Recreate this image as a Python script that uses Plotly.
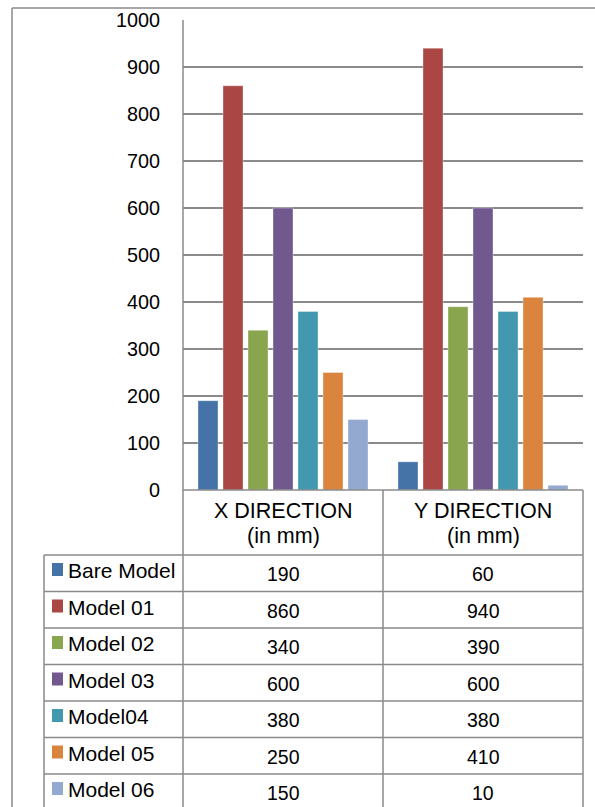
import plotly.graph_objects as go

# Peak displacement per model, in mm
categories = ["X DIRECTION", "Y DIRECTION"]
category_units = "(in mm)"
models = ["Bare Model", "Model 01", "Model 02", "Model 03", "Model04", "Model 05", "Model 06"]
x_direction = [190, 860, 340, 600, 380, 250, 150]
y_direction = [60, 940, 390, 600, 380, 410, 10]
y_ticks = [0, 100, 200, 300, 400, 500, 600, 700, 800, 900, 1000]

colors = ["#4572A7", "#AA4643", "#89A54E", "#71588F", "#4198AF", "#DB843D", "#93A9CF"]

W, H = 595, 807
FONT = "Liberation Sans, Arial, sans-serif"
LINE = "#8a8a8a"

# pixel layout of the chart frame and data table
plot_left, plot_right = 183, 583
plot_top, plot_bottom = 20, 490
col_edges = [44, 183, 383, 583]
header_bottom = 555
row_h = 36.5
table_bottom = 812


def px(x):
    return x / W


def py(y):
    return 1 - y / H


fig = go.Figure()
for name, xv, yv, c in zip(models, x_direction, y_direction, colors):
    fig.add_trace(go.Bar(
        x=categories, y=[xv, yv], name=name,
        marker=dict(color=c, line=dict(color="rgba(255,255,255,0.35)", width=1)),
        showlegend=False,
    ))

shapes = []
# outer chart frame (left and top edges)
shapes.append(dict(type="line", xref="paper", yref="paper", x0=px(12), x1=px(12),
                   y0=py(8), y1=py(H + 5), line=dict(color=LINE, width=1.5)))
shapes.append(dict(type="line", xref="paper", yref="paper", x0=px(12), x1=px(W + 5),
                   y0=py(8), y1=py(8), line=dict(color=LINE, width=1.5)))

# data table grid
shapes.append(dict(type="line", xref="paper", yref="paper", x0=px(plot_left), x1=px(plot_right),
                   y0=py(plot_bottom), y1=py(plot_bottom), line=dict(color=LINE, width=1.5)))
row_tops = [header_bottom + i * row_h for i in range(len(models) + 1)]
for yb in row_tops:
    shapes.append(dict(type="line", xref="paper", yref="paper", x0=px(col_edges[0]), x1=px(col_edges[-1]),
                       y0=py(yb), y1=py(yb), line=dict(color=LINE, width=1.5)))
shapes.append(dict(type="line", xref="paper", yref="paper", x0=px(col_edges[0]), x1=px(col_edges[0]),
                   y0=py(header_bottom), y1=py(table_bottom), line=dict(color=LINE, width=1.5)))
shapes.append(dict(type="line", xref="paper", yref="paper", x0=px(col_edges[1]), x1=px(col_edges[1]),
                   y0=py(plot_top), y1=py(table_bottom), line=dict(color=LINE, width=1.5)))
for xe in col_edges[2:]:
    shapes.append(dict(type="line", xref="paper", yref="paper", x0=px(xe), x1=px(xe),
                       y0=py(plot_bottom), y1=py(table_bottom), line=dict(color=LINE, width=1.5)))

annotations = []
# column headers: category name with units underneath
for i, cat in enumerate(categories):
    cx = (col_edges[i + 1] + col_edges[i + 2]) / 2
    for text, yc in ((cat, 511), (category_units, 536)):
        annotations.append(dict(xref="paper", yref="paper", x=px(cx), y=py(yc),
                                text=text, showarrow=False, xanchor="center", yanchor="middle",
                                font=dict(family=FONT, size=21.5, color="#000000")))

# legend keys, names and values in each row
for r, (name, c) in enumerate(zip(models, colors)):
    top = row_tops[r]
    mid = top + row_h / 2
    shapes.append(dict(type="rect", xref="paper", yref="paper", x0=px(52), x1=px(63),
                       y0=py(top + 8), y1=py(top + 21), fillcolor=c, line=dict(width=0)))
    annotations.append(dict(xref="paper", yref="paper", x=px(66), y=py(mid - 2.5),
                            text=name, showarrow=False, xanchor="left", yanchor="middle",
                            font=dict(family=FONT, size=21, color="#000000")))
    for j, vals in enumerate([x_direction, y_direction]):
        cx = (col_edges[j + 1] + col_edges[j + 2]) / 2
        annotations.append(dict(xref="paper", yref="paper", x=px(cx), y=py(mid + 1.2),
                                text=str(vals[r]), showarrow=False, xanchor="center", yanchor="middle",
                                font=dict(family=FONT, size=19.5, color="#000000")))

fig.update_layout(
    width=W, height=H, autosize=False,
    margin=dict(l=0, r=0, t=0, b=0, pad=0),
    paper_bgcolor="white", plot_bgcolor="white",
    barmode="group", bargap=0.125, bargroupgap=0.2,
    shapes=shapes, annotations=annotations,
    xaxis=dict(domain=[px(plot_left), px(plot_right)], range=[-0.5, 1.5], automargin=False,
               showticklabels=False, showgrid=False, zeroline=False, showline=False, ticks=""),
    yaxis=dict(domain=[py(plot_bottom), py(plot_top)], range=[0, 1000], automargin=False,
               tickvals=y_ticks, ticktext=[str(v) for v in y_ticks],
               showgrid=True, gridcolor=LINE, gridwidth=1.5, zeroline=False,
               showline=False, ticks="", ticklabelstandoff=22,
               tickfont=dict(family=FONT, size=19.8, color="#000000")),
    font=dict(family=FONT),
)

fig.write_html("out.html")
